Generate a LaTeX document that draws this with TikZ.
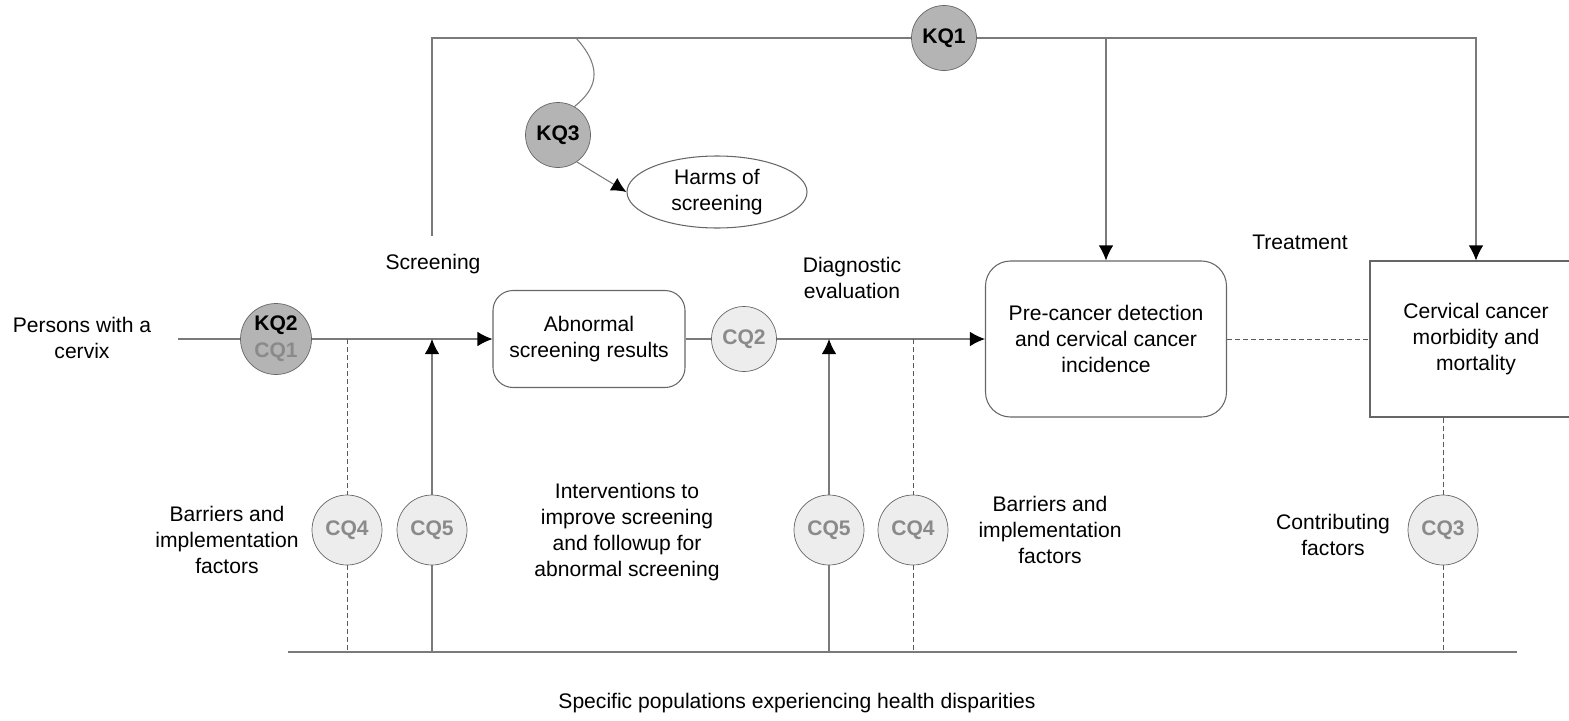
\documentclass[tikz,border=0pt]{standalone}
\usepackage{fontspec}
\setmainfont{Liberation Sans}
\usetikzlibrary{arrows.meta,shapes.geometric}
\definecolor{lineg}{HTML}{7A7A7A}
\definecolor{kqfill}{HTML}{B4B4B4}
\definecolor{cqfill}{HTML}{EDEDED}
\definecolor{cqtext}{HTML}{8A8A8A}

\begin{document}
\begin{tikzpicture}[x=0.2mm,y=-0.2mm,
  every node/.style={font=\fontsize{12}{14.8}\selectfont,align=center,inner sep=0pt},
  conn/.style={draw=lineg,line width=0.6pt},
  dashln/.style={draw=black!65,line width=0.5pt,dash pattern=on 1mm off 0.6mm},
  arr/.style={conn,-{Latex[length=3mm,width=2.9mm,color=black]}},
  kq/.style={circle,draw=black!60,fill=kqfill,minimum size=13mm,font=\fontsize{12}{12.5}\selectfont\bfseries},
  cq/.style={circle,draw=black!60,fill=cqfill,minimum size=14mm,text=cqtext,font=\fontsize{12}{12.5}\selectfont\bfseries},
  box/.style={draw=black!60,fill=white,line width=0.6pt}]
\useasboundingbox (0,0) rectangle (1569,721);

\node (persons) at (82,338) {Persons with a\\cervix};
\node (screen) at (433,264) {Screening};
\node (diag) at (852,278) {Diagnostic\\evaluation};
\node (treat) at (1300,242) {Treatment};
\node (barl) at (227,540) {Barriers and\\implementation\\factors};
\node (interv) at (627,532) {Interventions to\\improve screening\\and followup for\\abnormal screening};
\node (barr) at (1050,530) {Barriers and\\implementation\\factors};
\node (contrib) at (1333,535) {Contributing\\factors};
\node (pop) at (797,703) {Specific populations experiencing health disparities};

\node[box,rounded corners=4mm,minimum width=38.4mm,minimum height=19.4mm] (abn) at (589,339) {Abnormal\\screening results};
\node[box,rounded corners=5mm,minimum width=48.2mm,minimum height=31.2mm] (pre) at (1106,339) {Pre-cancer detection\\and cervical cancer\\incidence};
\node[box,minimum width=42.4mm,minimum height=31.2mm] (cerv) at (1476,339) {Cervical cancer\\morbidity and\\mortality};
\node[box,ellipse,minimum width=36mm,minimum height=14.4mm] (harms) at (717,192) {Harms of\\screening};

\node[kq,minimum size=14.2mm,font=\fontsize{12}{15.3}\selectfont\bfseries] (kq2) at (276,339) {KQ2\\\textcolor{cqtext}{CQ1}};
\node[kq] (kq1) at (944,38) {KQ1};
\node[kq] (kq3) at (558,135) {KQ3};
\node[cq,minimum size=13mm] (cq2) at (744,339) {CQ2};
\node[cq] (cqa4) at (347,530) {CQ4};
\node[cq] (cqa5) at (432,530) {CQ5};
\node[cq] (cqb5) at (829,530) {CQ5};
\node[cq] (cqb4) at (913,530) {CQ4};
\node[cq] (cq3) at (1443,530) {CQ3};

\coordinate (start) at (178,339);
\coordinate (scrbase) at (432,236);
\coordinate (bl) at (288,652);
\coordinate (br) at (1517,652);
\coordinate (fork) at (576,38);

% main path
\draw[conn] (start) -- (kq2);
\draw[arr] (kq2) -- (abn);
\draw[conn] (abn) -- (cq2);
\draw[arr] (cq2) -- (pre);
\draw[dashln] (pre) -- (cerv);

% top loop
\draw[conn] (scrbase) |- (kq1);
\draw[arr] (kq1) -| (cerv.north);
\draw[arr] (pre.north |- kq1) -- (pre.north);
\draw[conn] (fork) .. controls (605,70) and (595,90) .. (kq3.60);
\draw[arr] (kq3.-55) -- (harms.west);

% populations
\draw[conn] (bl) -- (br);
\draw[dashln] (cqa4 |- abn) -- (cqa4);
\draw[dashln] (cqa4) -- (cqa4 |- bl);
\draw[arr] (cqa5) -- (cqa5 |- abn);
\draw[conn] (cqa5) -- (cqa5 |- bl);
\draw[arr] (cqb5) -- (cqb5 |- pre);
\draw[conn] (cqb5) -- (cqb5 |- bl);
\draw[dashln] (cqb4 |- pre) -- (cqb4);
\draw[dashln] (cqb4) -- (cqb4 |- bl);
\draw[dashln] (cerv.south -| cq3) -- (cq3);
\draw[dashln] (cq3) -- (cq3 |- bl);
\end{tikzpicture}
\end{document}
